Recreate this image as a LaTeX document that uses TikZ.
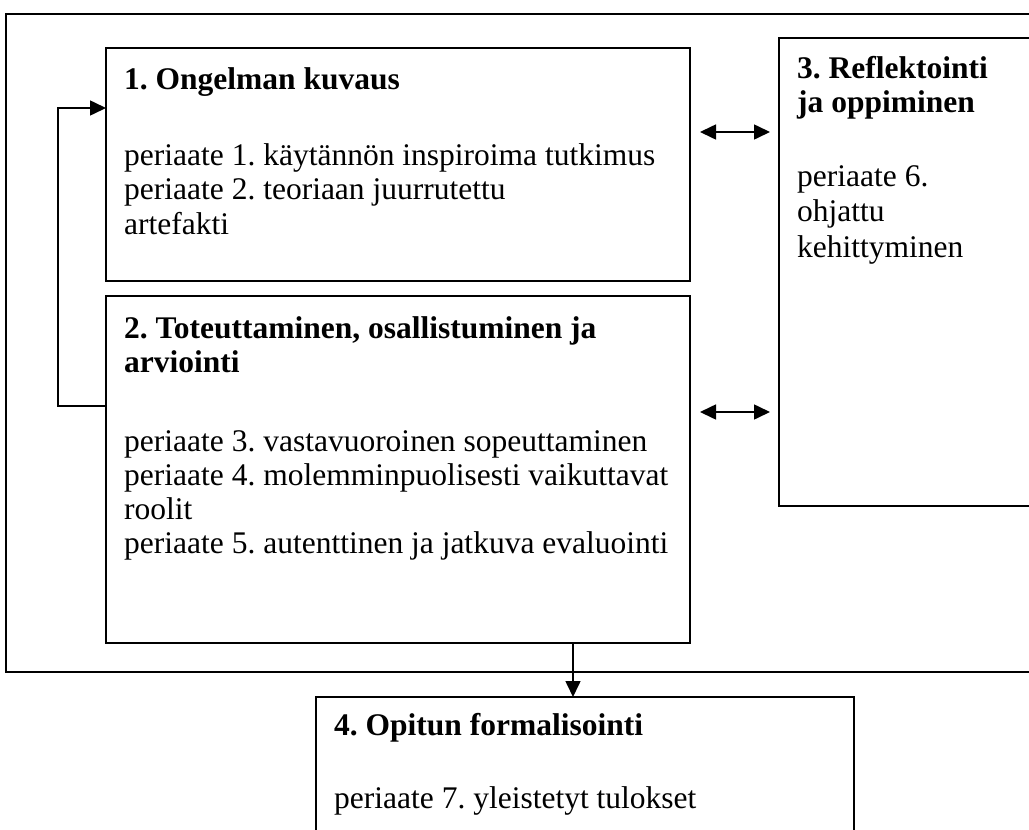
\documentclass[tikz,border=0pt]{standalone}
\usepackage{fontspec}
\setmainfont{Liberation Serif}
\usetikzlibrary{arrows.meta}
\begin{document}
\frenchspacing
\begin{tikzpicture}[x=1pt,y=-1pt,
  frame/.style={draw=black,line width=1.6pt,inner sep=0pt,outer sep=0pt,anchor=north west},
  txt/.style={inner sep=0pt,anchor=base west,font=\fontsize{31.5}{34.5}\selectfont},
  head/.style={txt,font=\fontsize{31.5}{34.5}\selectfont\bfseries},
  conn/.style={draw=black,line width=1.6pt},
  tip/.style={-{Triangle[length=16pt,width=15pt]}},
  dtip/.style={{Triangle[length=16pt,width=15pt]}-{Triangle[length=16pt,width=15pt]}}
]
\useasboundingbox (0,0) rectangle (1029,830);
\clip (0,0) rectangle (1029,830);
% outer frame
\node[frame,minimum width=1050pt,minimum height=658pt] (outer) at (6,14) {};
% boxes
\node[frame,minimum width=584pt,minimum height=233pt] (b1) at (106,48) {};
\node[frame,minimum width=584pt,minimum height=347pt] (b2) at (106,296) {};
\node[frame,minimum width=280pt,minimum height=468pt] (b3) at (779,38) {};
\node[frame,minimum width=538pt,minimum height=160pt] (b4) at (316,697) {};
% box 1 text
\node[head] (h1) at (124,89) {1. Ongelman kuvaus};
\node[txt] (t1a) at (124,165) {periaate 1. käytännön inspiroima tutkimus};
\node[txt] (t1b) at (124,199.5) {periaate 2. teoriaan juurrutettu};
\node[txt] (t1c) at (124,234) {artefakti};
% box 2 text
\node[head] (h2a) at (124,338) {2. Toteuttaminen, osallistuminen ja};
\node[head] (h2b) at (124,372) {arviointi};
\node[txt] (t2a) at (124,451) {periaate 3. vastavuoroinen sopeuttaminen};
\node[txt] (t2b) at (124,485) {periaate 4. molemminpuolisesti vaikuttavat};
\node[txt] (t2c) at (124,519) {roolit};
\node[txt] (t2d) at (124,553) {periaate 5. autenttinen ja jatkuva evaluointi};
% box 3 text
\node[head] (h3a) at (797,78) {3. Reflektointi};
\node[head] (h3b) at (797,112) {ja oppiminen};
\node[txt] (t3a) at (797,186) {periaate 6.};
\node[txt] (t3b) at (797,221) {ohjattu};
\node[txt] (t3c) at (797,257) {kehittyminen};
% box 4 text
\node[head] (h4) at (334,735) {4. Opitun formalisointi};
\node[txt] (t4a) at (334,808) {periaate 7. yleistetyt tulokset};
% connectors
\coordinate (lpA) at (58,406);
\coordinate (lpB) at (58,108);
\draw[conn,tip] (b2.west |- lpA) -- (lpA) -- (lpB) -- (b1.west |- lpB);
\coordinate (da1) at (700,132);
\coordinate (da2) at (770,132);
\draw[conn,dtip] (da1) -- (da2);
\coordinate (db1) at (700,412);
\coordinate (db2) at (770,412);
\draw[conn,dtip] (db1) -- (db2);
\coordinate (va) at (573,0);
\draw[conn,tip] (b2.south -| va) -- (b4.north -| va);
\end{tikzpicture}
\end{document}
